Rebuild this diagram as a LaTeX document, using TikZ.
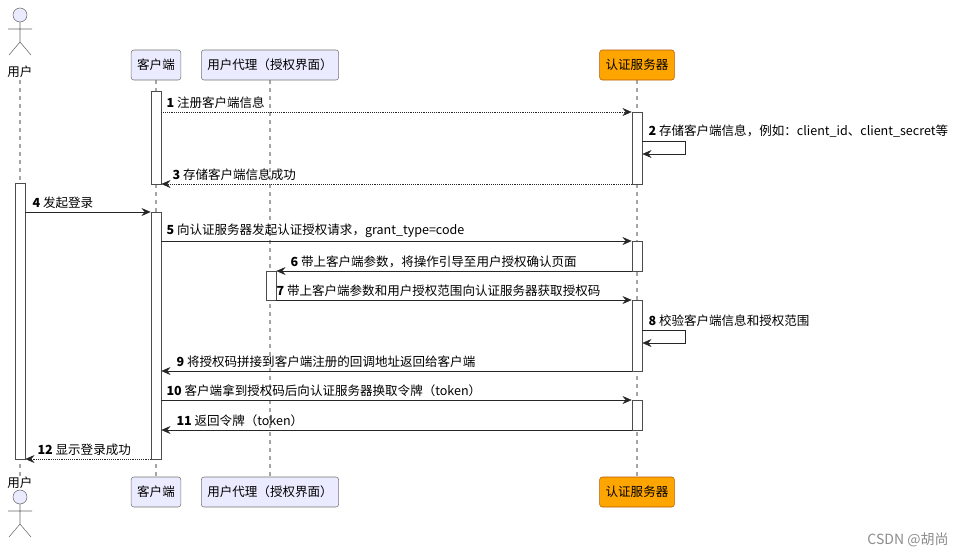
\documentclass[tikz,border=0pt]{standalone}
\usepackage{fontspec}
\setmainfont{Noto Sans CJK SC}
\usetikzlibrary{arrows.meta,fit}

\begin{document}
\begin{tikzpicture}[x=0.75pt,y=-0.75pt,font=\fontsize{9.4}{11}\selectfont,
                    >={Stealth[length=7pt,width=6pt,inset=2.5pt]}]
  \tikzset{head/.style={draw=black!55,fill=blue!8!white,rounded corners=2pt,
                        minimum height=30*0.75pt,inner xsep=4.5pt},
           server/.style={head,fill={rgb,255:red,255;green,165;blue,0},draw=orange!70!black},
           life/.style={draw=black!35,dashed,line width=0.8pt},
           bar/.style={draw=black!70,fill=white,inner sep=0pt},
           msg/.style={->,draw=black!85},
           msgdot/.style={msg,densely dotted},
           lbl/.style={anchor=south west,inner sep=1pt},
           actor/.style={draw=black!60,fill=blue!8!white}}
  \useasboundingbox (0,0) rectangle (972,557);

  % lifelines
  \draw[life] (20,80) -- (20,478);
  \draw[life] (156,80) -- (156,478);
  \draw[life] (270,80) -- (270,478);
  \draw[life] (637,80) -- (637,478);

  % heads
  \node[head]   (client)  at (156,65)  {客户端};
  \node[head]   (agent)   at (270,65)  {用户代理（授权界面）};
  \node[server] (srv)     at (637,65)  {认证服务器};
  \node[head]   (clientB) at (156,492) {客户端};
  \node[head]   (agentB)  at (270,492) {用户代理（授权界面）};
  \node[server] (srvB)    at (637,492) {认证服务器};

  % actor
  \foreach \y/\n in {0/userT,482/userB}{
    \draw[actor] (20,15+\y) circle (7);
    \draw[black!60] (20,22+\y) -- (20,42+\y) (8,29+\y) -- (32,29+\y)
                    (20,42+\y) -- (9,55+\y) (20,42+\y) -- (31,55+\y);
  }
  \node (user)  at (20,72)  {用户};
  \node (userb) at (20,483) {用户};

  % activations
  \node[bar,fit={(151,91)(161,184)}]  (c1) {};
  \node[bar,fit={(151,212)(161,459)}] (c2) {};
  \node[bar,fit={(15,183)(25,459)}]   (u1) {};
  \node[bar,fit={(266,271)(276,300)}] (a1) {};
  \node[bar,fit={(632,112)(642,184)}] (s1) {};
  \node[bar,fit={(632,241)(642,271)}] (s2) {};
  \node[bar,fit={(632,300)(642,371)}] (s3) {};
  \node[bar,fit={(632,400)(642,430)}] (s4) {};

  % messages
  \draw[msgdot] (c1.east|-0,112) -- (s1.west|-0,112);
  \node[lbl] at (165,110) {\textbf{1} 注册客户端信息};
  \draw[msg] (s1.east|-0,141) -- (685,141) -- (685,154) -- (s1.east|-0,154);
  \node[lbl] at (647,139) {\textbf{2} 存储客户端信息，例如：client\_id、client\_secret等};
  \draw[msgdot] (s1.west|-0,184) -- (c1.east|-0,184);
  \node[lbl] at (171,182) {\textbf{3} 存储客户端信息成功};
  \draw[msg] (u1.east|-0,212) -- (c2.west|-0,212);
  \node[lbl] at (31,210) {\textbf{4} 发起登录};
  \draw[msg] (c2.east|-0,241) -- (s2.west|-0,241);
  \node[lbl] at (165,239) {\textbf{5} 向认证服务器发起认证授权请求，grant\_type=code};
  \draw[msg] (s2.west|-0,271) -- (a1.east|-0,271);
  \node[lbl] at (289,269) {\textbf{6} 带上客户端参数，将操作引导至用户授权确认页面};
  \draw[msg] (a1.east|-0,300) -- (s3.west|-0,300);
  \node[lbl] at (275,298) {\textbf{7} 带上客户端参数和用户授权范围向认证服务器获取授权码};
  \draw[msg] (s3.east|-0,330) -- (685,330) -- (685,343) -- (s3.east|-0,343);
  \node[lbl] at (647,328) {\textbf{8} 校验客户端信息和授权范围};
  \draw[msg] (s3.west|-0,371) -- (c2.east|-0,371);
  \node[lbl] at (175,369) {\textbf{9} 将授权码拼接到客户端注册的回调地址返回给客户端};
  \draw[msg] (c2.east|-0,400) -- (s4.west|-0,400);
  \node[lbl] at (165,398) {\textbf{10} 客户端拿到授权码后向认证服务器换取令牌（token）};
  \draw[msg] (s4.west|-0,430) -- (c2.east|-0,430);
  \node[lbl] at (175,428) {\textbf{11} 返回令牌（token）};
  \draw[msgdot] (c2.west|-0,459) -- (u1.east|-0,459);
  \node[lbl] at (36,457) {\textbf{12} 显示登录成功};

  \node[text=black!45,font=\fontsize{10.5}{12}\selectfont] (mark) at (908,540) {CSDN @胡尚};
\end{tikzpicture}
\end{document}
